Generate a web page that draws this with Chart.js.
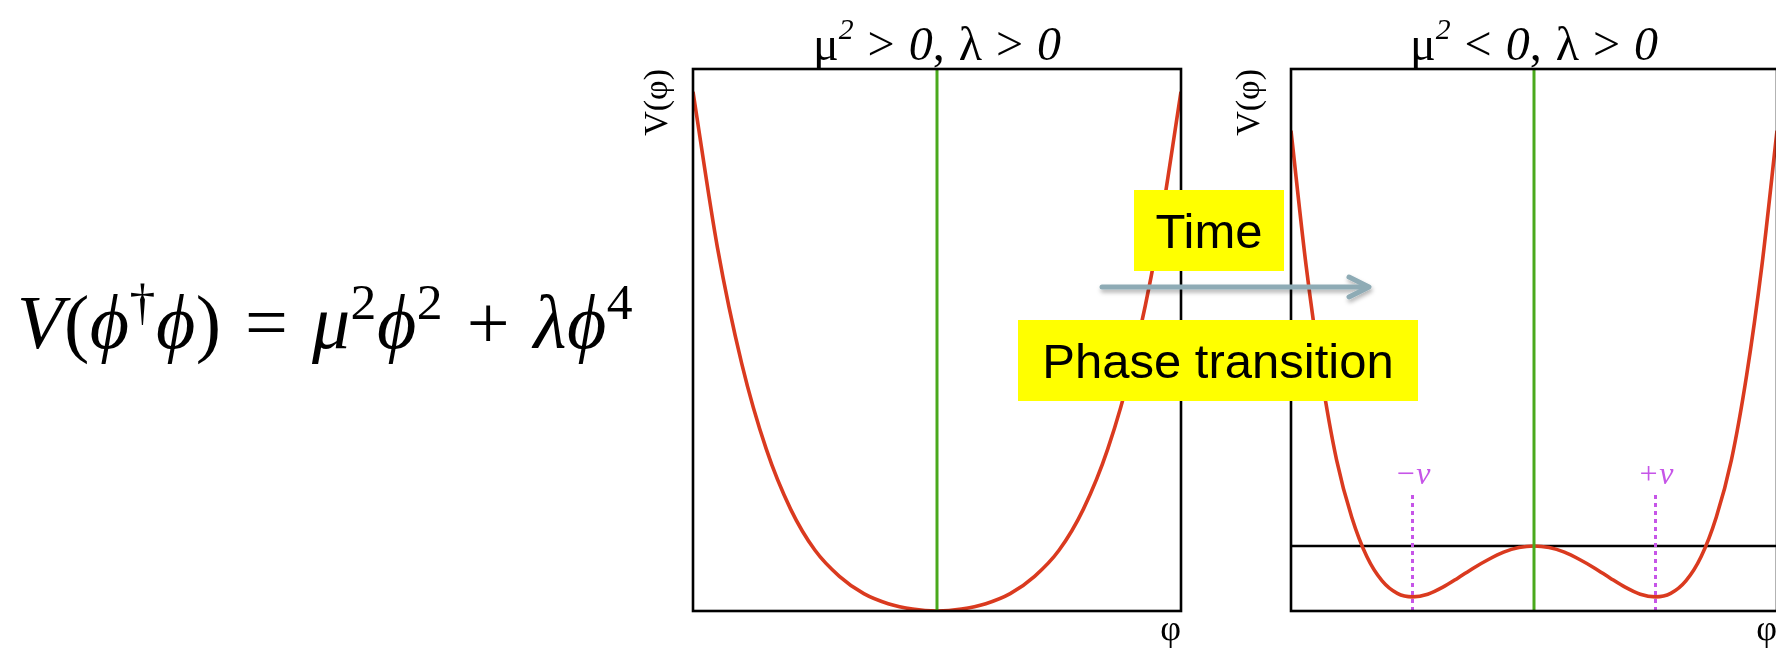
<!DOCTYPE html>
<html>
<head>
<meta charset="utf-8">
<script src="https://cdn.jsdelivr.net/npm/chart.js@4.4.0/dist/chart.umd.min.js"></script>
<style>
  html, body { margin: 0; padding: 0; background: #fff; }
  body { width: 1776px; height: 649px; overflow: hidden; position: relative; }
  canvas { position: absolute; top: 0; }
  .ttl { position: absolute; top: 18px; font-family: "Liberation Serif", serif; font-size: 48px; line-height: 1; text-align: center; white-space: nowrap; color: #000; word-spacing: 2px; }
  .ttl sup { font-size: 0.62em; position: relative; top: -0.12em; }
  .formula { position: absolute; left: 17px; top: 279px; font-family: "Liberation Serif", serif; font-size: 76px; line-height: 1; white-space: nowrap; color: #000; word-spacing: 4px; letter-spacing: 0.5px; }
  .formula sup { font-size: 0.68em; position: relative; top: -0.05em; }
  .tag { position: absolute; background: #ffff00; font-family: "Liberation Sans", Arial, sans-serif; font-size: 49px; color: #000; display: flex; align-items: center; justify-content: center; }
  svg { position: absolute; left: 0; top: 0; }
</style>
</head>
<body>
<canvas id="left" width="600" height="649" style="left:600px"></canvas>
<canvas id="right" width="600" height="649" style="left:1192px"></canvas>

<div class="formula"><i>V</i>(<i>ϕ</i><sup>†</sup><i>ϕ</i>) = <i>μ</i><sup>2</sup><i>ϕ</i><sup>2</sup> + <i>λϕ</i><sup>4</sup></div>
<div class="ttl" style="left:693px;width:488px">μ<sup><i>2</i></sup> &gt; <i>0</i>, λ &gt; <i>0</i></div>
<div class="ttl" style="left:1291px;width:486px">μ<sup><i>2</i></sup> &lt; <i>0</i>, λ &gt; <i>0</i></div>

<svg width="1776" height="649">
  <defs>
    <filter id="sh" x="-10%" y="-50%" width="120%" height="200%">
      <feDropShadow dx="1" dy="3" stdDeviation="2" flood-color="#000" flood-opacity="0.3"/>
    </filter>
  </defs>
  <g filter="url(#sh)" stroke="#8eabb5" stroke-width="5" stroke-linecap="round" stroke-linejoin="round" fill="none">
    <line x1="1102" y1="287" x2="1366" y2="287"/>
    <polyline points="1349,277 1369,287 1349,297"/>
  </g>
</svg>
<div class="tag" style="left:1134px;top:190px;width:150px;height:81px">Time</div>
<div class="tag" style="left:1018px;top:320px;width:400px;height:81px">Phase transition</div>

<script>
// mu^2 > 0 panel
var phiLeft = [-1, -0.9, -0.8, -0.7, -0.6, -0.5, -0.4, -0.3, -0.2, -0.1, 0,
               0.1, 0.2, 0.3, 0.4, 0.5, 0.6, 0.7, 0.8, 0.9, 1];
var potLeft = [95.8, 67.1, 45.6, 29.9, 18.8, 11.2, 6.4, 3.2, 1.35, 0.35, 0,
               0.35, 1.35, 3.2, 6.4, 11.2, 18.8, 29.9, 45.6, 67.1, 95.8];

// mu^2 < 0 panel (phi in units of v)
var phiRight = [-2, -1.875, -1.75, -1.625, -1.5, -1.375, -1.25, -1.125, -1, -0.875, -0.75, -0.625, -0.5, -0.375, -0.25, -0.125, 0,
                0.125, 0.25, 0.375, 0.5, 0.625, 0.75, 0.875, 1, 1.125, 1.25, 1.375, 1.5, 1.625, 1.75, 1.875, 2];
var potRight = [88.6, 63.6, 43.5, 27.9, 17.3, 10.0, 5.55, 3.25, 2.6, 3.1, 4.4, 6.1, 7.9, 9.5, 10.85, 11.7, 12.0,
                11.7, 10.85, 9.5, 7.9, 6.1, 4.4, 3.1, 2.6, 3.25, 5.55, 10.0, 17.3, 27.9, 43.5, 63.6, 88.6];

var falseVacuum = 12.0;
var vevPos = [-1, 1];
var vevText = ['\u2212v', '+v'];
var vevLineTop = 21.8;
var vevLabelY = 23.5;
var vTop = 100;

var RED = '#da3a1f', GREEN = '#4aa91c', MAGENTA = '#c655e8';

function pts(xs, ys) {
  var out = [];
  for (var i in xs) out.push({x: xs[i], y: ys[i]});
  return out;
}

var framePlugin = {
  id: 'frame',
  afterDatasetsDraw: function(chart) {
    var ctx = chart.ctx, a = chart.chartArea;
    ctx.save();
    ctx.strokeStyle = '#000';
    ctx.lineWidth = 2.6;
    ctx.strokeRect(a.left, a.top, a.right - a.left, a.bottom - a.top);
    var marks = chart.options.plugins.frame.marks || [];
    ctx.fillStyle = MAGENTA;
    ctx.font = 'italic 32px "Liberation Serif", serif';
    ctx.textAlign = 'center';
    ctx.textBaseline = 'alphabetic';
    marks.forEach(function(m) {
      ctx.fillText(m.text, chart.scales.x.getPixelForValue(m.x), chart.scales.y.getPixelForValue(m.y));
    });
    ctx.restore();
  }
};

function panel(id, xs, ys, xMax, yGap, padLeft, padRight, extra, marks) {
  var datasets = [
    {data: pts(xs, ys), borderColor: RED, borderWidth: 3.6, cubicInterpolationMode: 'monotone', order: 2},
    {data: [{x: 0, y: 0}, {x: 0, y: vTop}], borderColor: GREEN, borderWidth: 3, order: 1}
  ].concat(extra);
  datasets.forEach(function(d) { d.pointRadius = 0; d.fill = false; });
  return new Chart(document.getElementById(id), {
    type: 'line',
    data: {datasets: datasets},
    plugins: [framePlugin],
    options: {
      responsive: false,
      animation: false,
      layout: {padding: {left: padLeft, right: padRight, top: 69, bottom: 0}},
      plugins: {legend: {display: false}, tooltip: {enabled: false}, frame: {marks: marks}},
      scales: {
        x: {
          type: 'linear', min: -xMax, max: xMax,
          grid: {display: false, drawTicks: false}, border: {display: false}, ticks: {display: false},
          title: {display: true, text: 'φ', align: 'end', color: '#000',
                  font: {family: '"Liberation Serif", serif', size: 36, lineHeight: 1}, padding: {top: 2, bottom: 0}}
        },
        y: {
          min: 0, max: vTop,
          grid: {display: false, drawTicks: false}, border: {display: false}, ticks: {display: false},
          title: {display: true, text: 'V(φ)', align: 'end', color: '#000',
                  font: {family: '"Liberation Serif", serif', size: 34, lineHeight: 1}, padding: {top: 0, bottom: yGap}}
        }
      }
    }
  });
}

panel('left', phiLeft, potLeft, 1, 18, 41, 19, [], []);

var rightExtra = [
  {data: [{x: -2, y: falseVacuum}, {x: 2, y: falseVacuum}], borderColor: '#000', borderWidth: 2.6, order: 3}
];
var rightMarks = [];
for (var i in vevPos) {
  rightExtra.push({data: [{x: vevPos[i], y: 0}, {x: vevPos[i], y: vevLineTop}],
                   borderColor: MAGENTA, borderWidth: 3, borderDash: [4, 4], order: 0});
  rightMarks.push({x: vevPos[i], y: vevLabelY, text: vevText[i]});
}
panel('right', phiRight, potRight, 2, 24, 41, 15, rightExtra, rightMarks);
</script>
</body>
</html>
